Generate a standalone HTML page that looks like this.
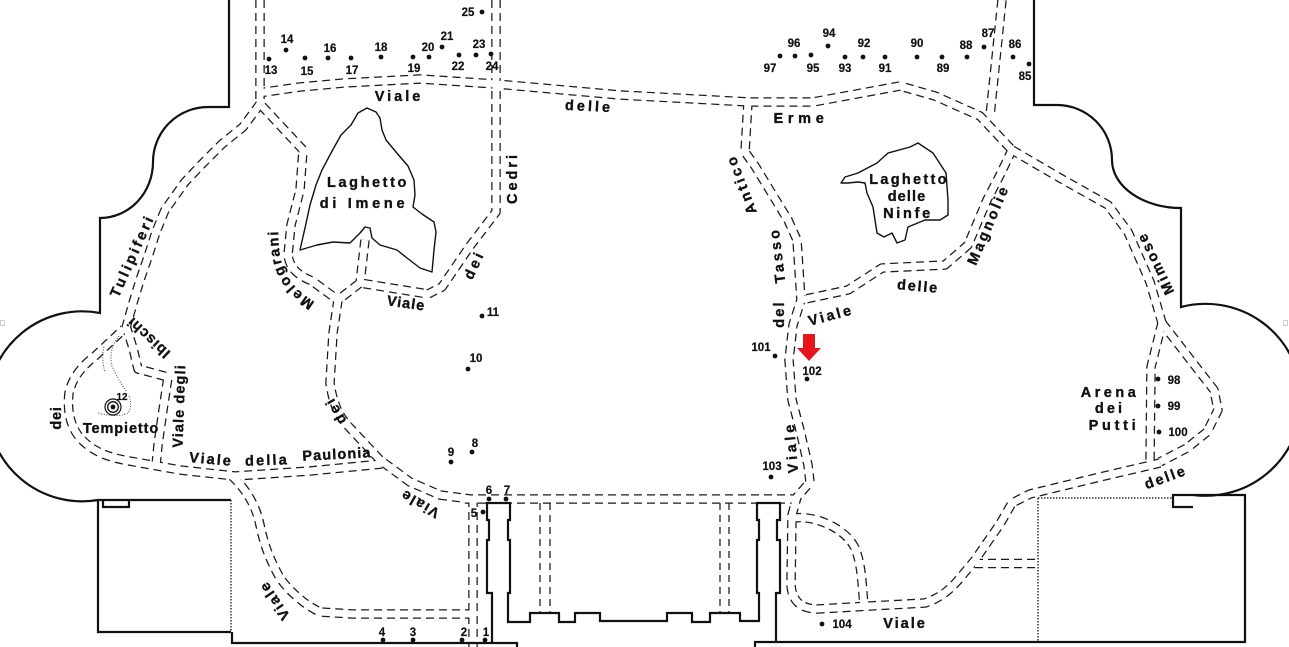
<!DOCTYPE html>
<html><head><meta charset="utf-8"><style>
html,body{margin:0;padding:0;background:#fff;}
svg{display:block;}
.t{font-family:"Liberation Sans",Arial,sans-serif;font-weight:bold;font-size:14.5px;fill:#111;stroke:#111;stroke-width:0.35;}
.n{font-family:"Liberation Sans",Arial,sans-serif;font-weight:bold;font-size:11.5px;fill:#111;text-anchor:middle;stroke:#111;stroke-width:0.2;}
.rc{fill:none;stroke:#1a1a1a;stroke-width:9.5;stroke-dasharray:8 5;stroke-linejoin:round;}
.rw{fill:none;stroke:#fff;stroke-width:7;stroke-linejoin:round;}
.wall{fill:none;stroke:#111;stroke-width:2.2;stroke-linejoin:miter;}
.lake{fill:none;stroke:#111;stroke-width:1.4;stroke-linejoin:round;}
.dl{fill:none;stroke:#222;stroke-width:1.3;stroke-dasharray:7 5;}
.dot{fill:none;stroke:#333;stroke-width:1.5;stroke-dasharray:1.5 1.5;}
</style></head><body>
<svg width="1289" height="647" viewBox="0 0 1289 647" xmlns="http://www.w3.org/2000/svg">
<rect width="1289" height="647" fill="#fff"/>
<defs>
<path id="r1" d="M260,0 L260,104"/>
<path id="r2" d="M258,93 L300,87 L344,83 L420,79 L496,84 L620,95 L750,102 L813,102 L900,86 L935,96 L980,116 L1012,150"/>
<path id="r3" d="M260,104 L243,127 L222,144 L202,164 L185,182 L165,210 L156,232 L148,257 L140,280 L133,303 L126,328"/>
<path id="r4" d="M262,106 L303,150 L300,190 L291,225 L288,255 C290,270 300,276 312,281 L338,300"/>
<path id="r5" d="M496,0 L496,212 L470,246 L442,287 L428,294 L360,283 L338,300"/>
<path id="r6" d="M365,240 L360,283"/>
<path id="r7" d="M338,300 L333,333 L330,383 C333,405 340,418 350,428 L380,460 L410,482 L440,495 L470,499"/>
<path id="r8" d="M465,499 L797,499"/>
<path id="r9" d="M473,499 L473,647"/>
<path id="r10" d="M473,614 L353,614 L320,612 C305,605 290,592 280,578 C270,560 264,545 260,525 C256,505 245,488 232,476"/>
<path id="r11" d="M382,464 L310,471 L235,476 L180,470 L135,462 C110,458 95,453 82,440 C70,428 67,410 69,393 C72,378 82,366 95,356 L124,329"/>
<path id="r13" d="M126,326 L133,348 L138,369 L168,377 L163,410 L158,445 L156,466"/>
<path id="r14" d="M1002,0 L990,116"/>
<path id="r15" d="M748,102 L745,152 L755,166 L788,220 L797,240 L801,300 L793,325 L789,360 L792,400 L800,430 L808,465 L810,482 L797,497 L792,515 L791,585 C792,600 800,609 818,609 L870,606 L925,603 C940,598 950,590 960,578 L975,560 L1000,524 L1012,503 L1030,494 L1100,477 L1160,463"/>
<path id="r16" d="M1012,150 L1000,175 L987,200 L968,245 L945,265 L882,268 L848,290 L801,300"/>
<path id="r17" d="M1012,150 L1060,178 L1108,205 L1128,232 L1150,282 L1162,323"/>
<path id="r18" d="M1162,323 L1151,367 L1150,462"/>
<path id="r19" d="M1162,323 L1196,367 L1214,390 L1218,410 L1207,432 L1187,448 L1160,462"/>
<path id="r20" d="M793,518 C815,515 845,528 855,548 C862,565 862,585 864,606"/>
<path id="r21" d="M975,563.5 L1038,563.5"/>
<path id="melp" d="M322,306 C303,296 288,283 282,264 C278,250 278,236 278,212"/>
</defs>

<!-- road casings -->
<g class="rc">
<use href="#r1"/><use href="#r2"/><use href="#r3"/><use href="#r4"/><use href="#r5"/><use href="#r6"/>
<use href="#r7"/><use href="#r8"/><use href="#r9"/><use href="#r10"/><use href="#r11"/><use href="#r13"/>
<use href="#r14"/><use href="#r15"/><use href="#r16"/><use href="#r17"/><use href="#r18"/><use href="#r19"/>
<use href="#r20"/><use href="#r21"/>
</g>
<!-- road cores -->
<g class="rw">
<use href="#r1"/><use href="#r2"/><use href="#r3"/><use href="#r4"/><use href="#r5"/><use href="#r6"/>
<use href="#r7"/><use href="#r8"/><use href="#r9"/><use href="#r10"/><use href="#r11"/><use href="#r13"/>
<use href="#r14"/><use href="#r15"/><use href="#r16"/><use href="#r17"/><use href="#r18"/><use href="#r19"/>
<use href="#r20"/><use href="#r21"/>
</g>

<!-- building interior dashed lines -->
<path class="dl" d="M540,503 V613 M550,503 V613 M720,503 V613 M729,503 V613"/>

<!-- lakes -->
<path class="lake" d="M367,108 L376,112 L380,118 L382,130 L386,140 L396,152 L408,166 L414,180 L415,195 L413,207 L422,214 L434,222 L436,232 L434,250 L432,272 L420,268 L407,258 L397,250 L380,245 L372,238 L370,228 L365,227 L360,233 L350,243 L333,242 L317,245 L300,250 L305,228 L310,205 L316,185 L322,170 L331,153 L341,135 L351,125 L358,113 Z"/>
<path class="lake" d="M918,143 L924,147 L933,153 L946,173 L948,200 L948,215 L940,220 L925,220 L908,227 L905,240 L897,243 L892,233 L884,237 L877,233 L873,207 L867,193 L865,183 L858,182 L848,183 L841,183 L845,177 L858,173 L877,163 L888,153 L910,147 Z"/>

<!-- walls -->
<path class="wall" d="M229,0 V107 H208 A55,55 0 0 0 153,162 A53,56 0 0 1 100,218 V313 A95,95 0 1 0 98,500 H231 M103,500 V507 H129 V500 M98,500 V632 H231 M232,632 V643 H517 V647"/>
<path class="wall" d="M1034,0 V105 H1057 A55,55 0 0 1 1112,160 A69,48 0 0 0 1181,208 V307 A96,96 0 1 1 1193,495 H1245 V642 H755 V647 M1193,495 H1173 V507 H1193"/>
<path class="wall" d="M492,643 V593 H487 V540 H489 V520 H487 V503 H510 V520 H508 V540 H510 V593 H508 V622 H530 V613 H559 V622 H575 V613 H600 V621 H667 V613 H692 V622 H710 V613 H740 V621 H759 V593 H757 V540 H759 V520 H757 V503 H780 V520 H777 V540 H780 V593 H776 V643"/>

<!-- dotted boundaries -->
<path class="dot" d="M231,500 V632 M1038,498 V642 M1038,498 H1173"/>
<!-- tempietto dotted paths -->
<path fill="none" stroke="#444" stroke-width="1" stroke-dasharray="1 1.6" d="M119,336 Q108,350 112,366 Q118,380 127,392 M104,347 Q101,358 105,372 M129,396 Q133,405 128,413 Q118,418 98,413"/>
<circle cx="113" cy="407" r="8" fill="none" stroke="#111" stroke-width="1.2"/>
<circle cx="113" cy="407" r="5.3" fill="none" stroke="#111" stroke-width="1.3"/>
<circle cx="113" cy="407" r="2.4" fill="#111"/>

<!-- dots -->
<g fill="#111">
<circle cx="269" cy="59" r="2.4"/><circle cx="286" cy="50" r="2.4"/><circle cx="305" cy="58" r="2.4"/><circle cx="328" cy="58" r="2.4"/>
<circle cx="351" cy="58" r="2.4"/><circle cx="381" cy="57" r="2.4"/><circle cx="413" cy="57" r="2.4"/><circle cx="429" cy="57" r="2.4"/>
<circle cx="442" cy="47" r="2.4"/><circle cx="459" cy="55" r="2.4"/><circle cx="476" cy="55" r="2.4"/><circle cx="491" cy="54" r="2.4"/>
<circle cx="482" cy="12" r="2.4"/>
<circle cx="780" cy="56" r="2.4"/><circle cx="795" cy="56" r="2.4"/><circle cx="811" cy="55" r="2.4"/><circle cx="828" cy="46" r="2.4"/>
<circle cx="845" cy="57" r="2.4"/><circle cx="863" cy="57" r="2.4"/><circle cx="885" cy="57" r="2.4"/><circle cx="917" cy="57" r="2.4"/>
<circle cx="942" cy="57" r="2.4"/><circle cx="967" cy="57" r="2.4"/><circle cx="984" cy="47" r="2.4"/><circle cx="1013" cy="57" r="2.4"/>
<circle cx="1029" cy="64" r="2.4"/>
<circle cx="482" cy="316" r="2.4"/><circle cx="468" cy="369" r="2.4"/><circle cx="451" cy="462" r="2.4"/><circle cx="472" cy="452" r="2.4"/>
<circle cx="489" cy="499" r="2.4"/><circle cx="506" cy="499" r="2.4"/><circle cx="483" cy="512" r="2.4"/>
<circle cx="383" cy="640" r="2.4"/><circle cx="413" cy="640" r="2.4"/><circle cx="462" cy="640" r="2.4"/><circle cx="485" cy="640" r="2.4"/>
<circle cx="775" cy="356" r="2.4"/><circle cx="807" cy="379" r="2.4"/><circle cx="771" cy="477" r="2.4"/><circle cx="822" cy="624" r="2.4"/>
<circle cx="1158" cy="379" r="2.4"/><circle cx="1158" cy="406" r="2.4"/><circle cx="1159" cy="432" r="2.4"/>
</g>

<!-- numbers -->
<g class="n">
<text x="271" y="74">13</text><text x="287" y="43">14</text><text x="307" y="75">15</text><text x="330" y="52">16</text>
<text x="352" y="74">17</text><text x="381" y="51">18</text><text x="414" y="72">19</text><text x="428" y="51">20</text>
<text x="447" y="40">21</text><text x="458" y="70">22</text><text x="479" y="48">23</text><text x="492" y="70">24</text>
<text x="468" y="16">25</text>
<text x="770" y="72">97</text><text x="794" y="47">96</text><text x="813" y="72">95</text><text x="829" y="37">94</text>
<text x="845" y="72">93</text><text x="864" y="47">92</text><text x="885" y="72">91</text><text x="917" y="47">90</text>
<text x="943" y="72">89</text><text x="966" y="49">88</text><text x="988" y="37">87</text><text x="1015" y="48">86</text>
<text x="1025" y="80">85</text>
<text x="493" y="316">11</text><text x="476" y="362">10</text><text x="451" y="456">9</text><text x="475" y="447">8</text>
<text x="489" y="494">6</text><text x="507" y="494">7</text><text x="474" y="517">5</text>
<text x="382" y="636">4</text><text x="413" y="636">3</text><text x="464" y="636">2</text><text x="486" y="636">1</text>
<text x="761" y="351">101</text><text x="812" y="375">102</text><text x="772" y="470">103</text><text x="842" y="628">104</text>
<text x="1174" y="384">98</text><text x="1174" y="410">99</text><text x="1178" y="436">100</text>
<text x="122" y="400" style="font-size:10px">12</text>
</g>

<!-- labels -->
<g class="t">
<text x="399" y="101" text-anchor="middle" letter-spacing="3">Viale</text>
<text transform="translate(589,107) rotate(3)" text-anchor="middle" dominant-baseline="central" letter-spacing="3">delle</text>
<text x="801" y="123" text-anchor="middle" letter-spacing="4.7">Erme</text>
<text x="368" y="187" text-anchor="middle" letter-spacing="2.6">Laghetto</text>
<text x="364" y="208" text-anchor="middle" letter-spacing="3.7">di Imene</text>
<text x="909" y="184" text-anchor="middle" letter-spacing="2.3">Laghetto</text>
<text x="907" y="201" text-anchor="middle" letter-spacing="1.1">delle</text>
<text x="908" y="218" text-anchor="middle" letter-spacing="2.7">Ninfe</text>
<text transform="translate(513,178) rotate(-90)" text-anchor="middle" dominant-baseline="central" letter-spacing="3">Cedri</text>
<text transform="translate(475,265) rotate(-65)" text-anchor="middle" dominant-baseline="central" letter-spacing="3.2">dei</text>
<text transform="translate(406,304) rotate(8)" text-anchor="middle" dominant-baseline="central" letter-spacing="1">Viale</text>
<text letter-spacing="2"><textPath href="#melp" startOffset="8">Melograni</textPath></text>
<text transform="translate(133,256) rotate(-66)" text-anchor="middle" dominant-baseline="central" letter-spacing="2.9">Tulipiferi</text>
<text transform="translate(149,337) rotate(-137)" text-anchor="middle" dominant-baseline="central" letter-spacing="1">Ibischi</text>
<text transform="translate(180,406) rotate(-88)" text-anchor="middle" dominant-baseline="central" letter-spacing="1.1">Viale degli</text>
<text transform="translate(57,418) rotate(-90)" text-anchor="middle" dominant-baseline="central" letter-spacing="0.8">dei</text>
<text x="121" y="433" text-anchor="middle" letter-spacing="0.9">Tempietto</text>
<text transform="translate(211,460) rotate(5)" text-anchor="middle" dominant-baseline="central" letter-spacing="2">Viale</text>
<text transform="translate(267,461) rotate(-2)" text-anchor="middle" dominant-baseline="central" letter-spacing="2.2">della</text>
<text transform="translate(337,455) rotate(-3)" text-anchor="middle" dominant-baseline="central" letter-spacing="1.1">Paulonia</text>
<text transform="translate(336,410) rotate(-120)" text-anchor="middle" dominant-baseline="central" letter-spacing="2.8">dei</text>
<text transform="translate(420,503) rotate(-150)" text-anchor="middle" dominant-baseline="central" letter-spacing="1.8">Viale</text>
<text transform="translate(275,600) rotate(-124)" text-anchor="middle" dominant-baseline="central" letter-spacing="2">Viale</text>
<text transform="translate(742,184) rotate(-111)" text-anchor="middle" dominant-baseline="central" letter-spacing="3">Antico</text>
<text transform="translate(778,255) rotate(-97)" text-anchor="middle" dominant-baseline="central" letter-spacing="3.1">Tasso</text>
<text transform="translate(780,314) rotate(-90)" text-anchor="middle" dominant-baseline="central" letter-spacing="2.2">del</text>
<text transform="translate(831,316) rotate(-15)" text-anchor="middle" dominant-baseline="central" letter-spacing="2.5">Viale</text>
<text transform="translate(918,287) rotate(5)" text-anchor="middle" dominant-baseline="central" letter-spacing="1.8">delle</text>
<text transform="translate(989,225) rotate(-67)" text-anchor="middle" dominant-baseline="central" letter-spacing="2.9">Magnolie</text>
<text transform="translate(1156,263) rotate(-116)" text-anchor="middle" dominant-baseline="central" letter-spacing="2.3">Mimose</text>
<text transform="translate(792,447) rotate(-95)" text-anchor="middle" dominant-baseline="central" letter-spacing="3.7">Viale</text>
<text x="1110" y="397" text-anchor="middle" letter-spacing="3.5">Arena</text>
<text x="1110" y="413" text-anchor="middle" letter-spacing="3.1">dei</text>
<text x="1114" y="430" text-anchor="middle" letter-spacing="3.7">Putti</text>
<text transform="translate(1166,478) rotate(-20)" text-anchor="middle" dominant-baseline="central" letter-spacing="2.2">delle</text>
<text x="905" y="628" text-anchor="middle" letter-spacing="2">Viale</text>
</g>

<!-- red arrow -->
<path d="M803,334 H815 V348 H821 L809,361 L797,348 H803 Z" fill="#e8141b"/>

<!-- edge marks -->
<rect x="0.5" y="320.5" width="4" height="5" fill="none" stroke="#ccc" stroke-width="1"/>
<rect x="1283.5" y="320.5" width="4" height="5" fill="none" stroke="#ccc" stroke-width="1"/>
</svg>
</body></html>
